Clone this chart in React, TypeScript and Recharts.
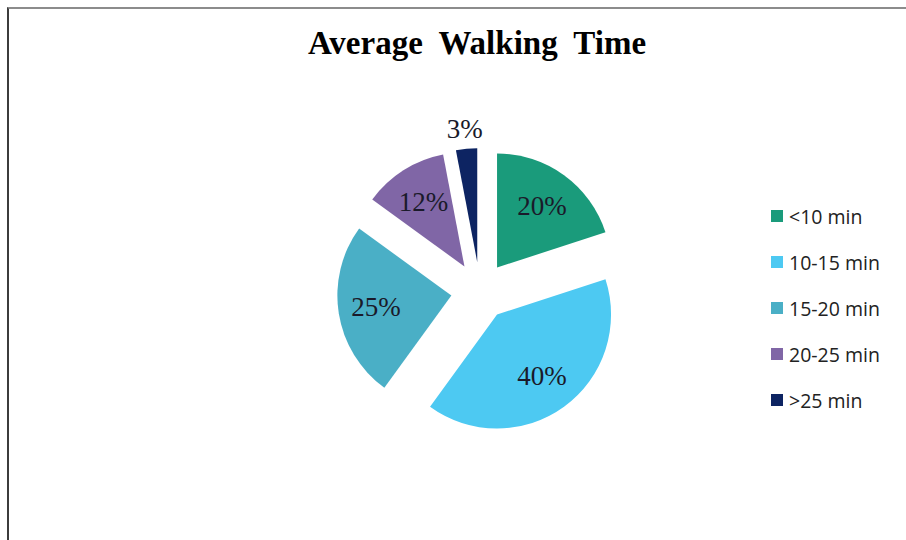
import { PieChart, Pie, Cell, Legend } from 'recharts';

const categories = ['<10 min', '10-15 min', '15-20 min', '20-25 min', '>25 min'];
const shares = [20, 40, 25, 12, 3];
const COLORS = ['#1a9b7b', '#4dc9f2', '#4aafc6', '#8066a6', '#0d2462'];

const data = categories.map((name, i) => ({ name, value: shares[i] }));

const CX = 480;
const CY = 291;
const RADIUS = 114;
const EXPLODE = 29;
const RADIAN = Math.PI / 180;

// mid angle of each slice, clockwise from 12 o'clock
const total = shares.reduce((a, b) => a + b, 0);
const midAngles = shares.map((v, i) => {
  const before = shares.slice(0, i).reduce((a, b) => a + b, 0);
  return ((before + v / 2) / total) * 360;
});

const makeLabel = (slice: number) => (props: any) => {
  const { cx, cy, midAngle, outerRadius, percent, index } = props;
  if (index !== slice) return null;
  const r = percent < 0.05 ? outerRadius + 20 : outerRadius * 0.67;
  const x = cx + r * Math.cos(-midAngle * RADIAN);
  const y = cy + r * Math.sin(-midAngle * RADIAN);
  return (
    <text
      x={x}
      y={y}
      fill="#1a1a2a"
      textAnchor="middle"
      dominantBaseline="central"
      fontFamily="'Liberation Serif', 'Times New Roman', serif"
      fontSize={27}
    >
      {`${Math.round(percent * 100)}%`}
    </text>
  );
};

const renderLegend = () => (
  <div style={{ fontFamily: "'Open Sans', sans-serif", fontSize: 19.5, color: '#222' }}>
    {categories.map((name, i) => (
      <div key={name} style={{ display: 'flex', alignItems: 'center', height: 46 }}>
        <span
          style={{
            display: 'inline-block',
            width: 12,
            height: 12,
            background: COLORS[i],
            marginRight: 6,
          }}
        />
        <span>{name}</span>
      </div>
    ))}
  </div>
);

export default function App() {
  return (
    <div
      style={{
        position: 'absolute',
        left: 0,
        top: 0,
        width: 906,
        height: 540,
        overflow: 'hidden',
        background: '#fff',
      }}
    >
      {/* frame: only the top and left edges are inside the picture */}
      <div
        style={{
          position: 'absolute',
          left: 7,
          top: 7,
          width: 940,
          height: 580,
          borderLeft: '2px solid #3c3c3c',
          borderTop: '2px solid #8c8c8c',
        }}
      />
      <div
        style={{
          position: 'absolute',
          left: 0,
          top: 27,
          width: 954,
          textAlign: 'center',
          fontFamily: "'Liberation Serif', 'Times New Roman', serif",
          fontWeight: 700,
          fontSize: 33,
          lineHeight: '33px',
          wordSpacing: 8,
          color: '#000',
        }}
      >
        Average Walking Time
      </div>
      <div style={{ position: 'absolute', left: 0, top: 0 }}>
        <PieChart width={906} height={540} margin={{ top: 0, right: 0, bottom: 0, left: 0 }}>
          {midAngles.map((a, i) => (
            <Pie
              key={categories[i]}
              data={data}
              dataKey="value"
              nameKey="name"
              cx={CX + EXPLODE * Math.sin(a * RADIAN)}
              cy={CY - EXPLODE * Math.cos(a * RADIAN)}
              outerRadius={RADIUS}
              startAngle={90}
              endAngle={-270}
              stroke="none"
              labelLine={false}
              label={makeLabel(i)}
              isAnimationActive={false}
              legendType="none"
            >
              {data.map((d, j) => (
                <Cell key={d.name} fill={j === i ? COLORS[j] : 'transparent'} />
              ))}
            </Pie>
          ))}
          <Legend
            content={renderLegend}
            layout="vertical"
            wrapperStyle={{ position: 'absolute', left: 771, top: 193, width: 135 }}
          />
        </PieChart>
      </div>
    </div>
  );
}
